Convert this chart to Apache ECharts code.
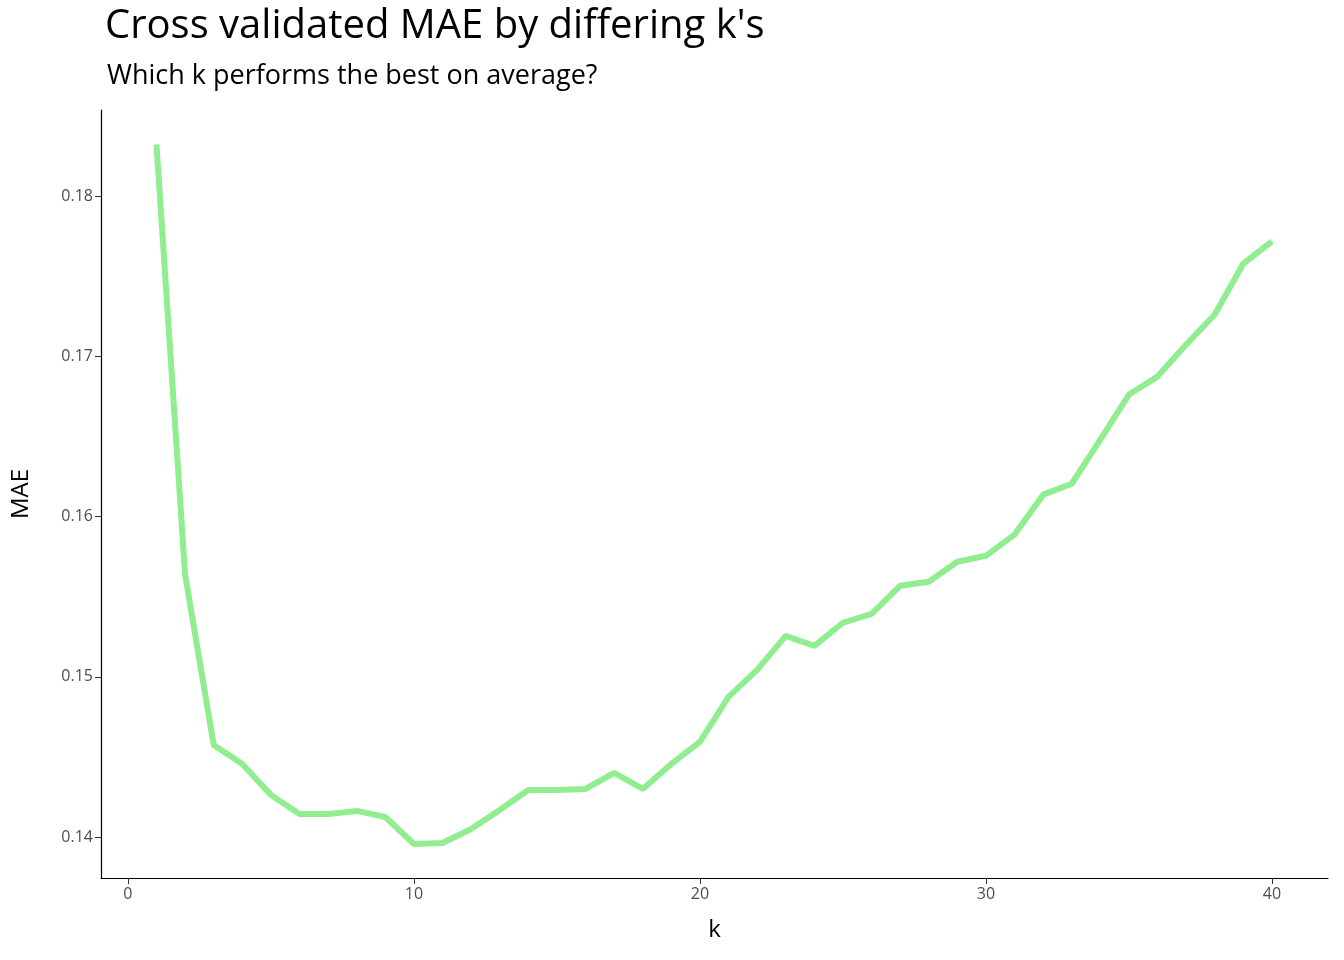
<!DOCTYPE html>
<html><head><meta charset="utf-8">
<script src="https://cdn.jsdelivr.net/npm/echarts@6/dist/echarts.min.js"></script>
<style>html,body{margin:0;padding:0;background:#fff}#c{width:1344px;height:960px}</style>
</head><body><div id="c"></div>
<script>
const ks = Array.from({length:40},(_,i)=>i+1);
const mae = [0.18325,0.1564,0.14575,0.14456,0.14263,0.14144,0.14144,0.14163,0.14125,0.13956,
0.13963,0.1405,0.14169,0.14294,0.14294,0.143,0.144,0.143,0.14456,0.14594,
0.14875,0.15044,0.15256,0.15194,0.15338,0.15394,0.15569,0.15594,0.15719,0.15756,
0.15888,0.16138,0.16206,0.16481,0.16763,0.16875,0.17075,0.17263,0.17581,0.17719];
const xTicks = [0,10,20,30,40];
const yTicks = [0.14,0.15,0.16,0.17,0.18];
const chart = echarts.init(document.getElementById('c'));
const F = '"Open Sans", "Noto Sans", sans-serif';
chart.setOption({
  animation:false,
  title:[{text:'Cross validated MAE by differing k\'s',left:100,top:2,textStyle:{fontFamily:F,fontSize:40,fontWeight:'normal',color:'#000'}},
         {text:'Which k performs the best on average?',left:102,top:58,textStyle:{fontFamily:F,fontSize:27,fontWeight:'normal',color:'#000'}}],
  grid:{left:101,right:16,top:110,bottom:82},
  xAxis:{type:'value',min:-0.94,max:41.96,name:'k',nameLocation:'middle',nameGap:40,
    nameTextStyle:{fontFamily:F,fontSize:24,color:'#000'},
    splitLine:{show:false},
    axisLine:{onZero:false,lineStyle:{color:'#000',width:1.2}},
    axisTick:{customValues:xTicks,length:6,lineStyle:{color:'#333'}},
    axisLabel:{customValues:xTicks,fontFamily:F,fontSize:16,color:'#4d4d4d',margin:8}},
  yAxis:{type:'value',min:0.13744,max:0.1854,name:'MAE',nameLocation:'middle',nameGap:68,
    nameTextStyle:{fontFamily:F,fontSize:24,color:'#000'},
    splitLine:{show:false},
    axisLine:{show:true,onZero:false,lineStyle:{color:'#000',width:1.2}},
    axisTick:{show:true,customValues:yTicks,length:6,lineStyle:{color:'#333'}},
    axisLabel:{customValues:yTicks,fontFamily:F,fontSize:16,color:'#4d4d4d',margin:8,formatter:v=>String(+v.toFixed(2))}},
  series:[{type:'line',data:ks.map((k,i)=>[k,mae[i]]),showSymbol:false,
    lineStyle:{color:'#90ee90',width:6,cap:'butt'}}]
});
</script></body></html>
